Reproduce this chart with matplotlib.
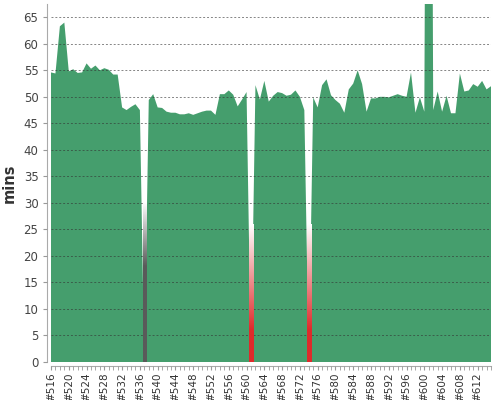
import numpy as np
import matplotlib
matplotlib.use("Agg")
import matplotlib.pyplot as plt
from matplotlib.ticker import MultipleLocator
from matplotlib.colors import to_rgb

# build numbers and durations (minutes); failed / aborted builds have no green area
builds = list(range(516, 616))
durations = [
    54.6, 54.4, 63.3, 64.0, 54.8, 55.2, 54.5, 54.6, 56.3, 55.3,   # 516-525
    55.9, 55.0, 55.4, 55.1, 54.2, 54.2, 48.0, 47.5, 48.1, 48.6,   # 526-535
    47.5, 0.0, 49.4, 50.5, 48.0, 47.9, 47.2, 47.0, 47.0, 46.7,    # 536-545
    46.7, 46.9, 46.6, 46.9, 47.2, 47.4, 47.4, 46.6, 50.5, 50.5,   # 546-555
    51.2, 50.4, 48.2, 49.5, 50.9, 0.0, 52.2, 49.5, 53.0, 49.1,    # 556-565
    50.2, 50.9, 50.7, 50.2, 50.4, 51.2, 50.0, 47.5, 0.0, 49.9,    # 566-575
    48.0, 52.2, 53.3, 50.3, 49.4, 48.7, 47.0, 51.4, 52.5, 55.0,   # 576-585
    52.4, 47.2, 49.7, 49.7, 50.0, 50.0, 49.9, 50.2, 50.5, 50.2,   # 586-595
    50.0, 54.6, 47.0, 49.9, 47.2, 250.0, 47.5, 51.0, 47.2, 50.2,  # 596-605
    46.9, 46.9, 54.4, 51.0, 51.2, 52.4, 51.9, 53.0, 51.4, 52.0,   # 606-615
]
aborted_builds = [537]
failed_builds = [561, 574]

C_OK = "#459e6d"
C_FAIL = "#de2b2b"
C_ABORT = "#5a5a5a"


def _gradient_column(ax, x, color, solid_to, fade_to, width):
    """Vertical strip: solid colour at the bottom fading to white."""
    ys = np.linspace(0, fade_to, 200)
    t = np.clip((ys - solid_to) / (fade_to - solid_to), 0, 1)[:, None]
    rgb = np.array(to_rgb(color))[None, :] * (1 - t) + np.ones((1, 3)) * t
    img = rgb[:, None, :]
    ax.imshow(img, extent=[x - width / 2, x + width / 2, 0, fade_to],
              origin="lower", aspect="auto", zorder=3, interpolation="bilinear")


fig = plt.figure(figsize=(5, 4), dpi=100)
ax = fig.add_axes([0.102, 0.095, 0.88, 0.895])

ax.fill_between(builds, 0, durations, color=C_OK, lw=0, zorder=2)
for b in aborted_builds:
    _gradient_column(ax, b, C_ABORT, 18, 30, 0.8)
for b in failed_builds:
    _gradient_column(ax, b, C_FAIL, 6, 26, 1.0)

ax.set_xlim(builds[0], builds[-1])
ax.set_ylim(0, 67.5)

ax.yaxis.set_major_locator(MultipleLocator(5))
ax.set_xticks(builds[::4])
ax.set_xticklabels([f"#{b}" for b in builds[::4]])
ax.set_xticks(builds, minor=True)
ax.tick_params(axis="y", labelsize=8.5, labelcolor="#444444", length=3, color="#999999", pad=3)
ax.tick_params(axis="x", which="both", length=3, color="#999999", pad=1.5)
ax.tick_params(axis="x", which="major", labelrotation=90, labelsize=7.5, labelcolor="#333333")

ax.grid(axis="y", color="#333333", alpha=0.6, lw=0.7, dashes=(2, 2), zorder=4)
ax.set_axisbelow(False)
for s in ("top", "right"):
    ax.spines[s].set_visible(False)
for s in ("left", "bottom"):
    ax.spines[s].set_position(("outward", 3))
    ax.spines[s].set_color("#aaaaaa")

ax.set_ylabel("mins", fontsize=10.5, fontweight="bold", color="#333333", labelpad=5)

fig.savefig("out.png", dpi=100)
